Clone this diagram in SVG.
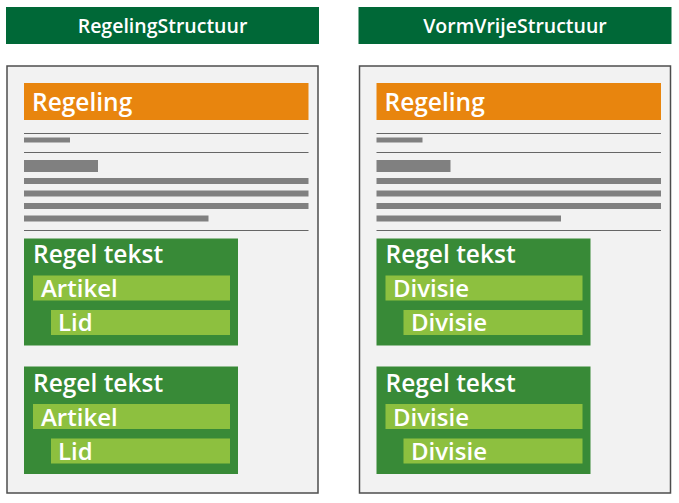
<svg xmlns="http://www.w3.org/2000/svg" width="679" height="503" viewBox="0 0 679 503">
<style>
.hdr{fill:#006837}
.hdrt{fill:#fff;font-family:"Open Sans",sans-serif;font-weight:600;font-size:19.5px;text-anchor:middle}
.doc{fill:#f2f2f2;stroke:#4d4d4d;stroke-width:1.5}
.org{fill:#e8850e}
.rule{stroke:#666;stroke-width:1}
.bar{fill:#808080}
.blk{fill:#388a37}
.sub{fill:#8dc03f}
.t{fill:#fff;font-family:"Open Sans",sans-serif;font-weight:600}
.big{font-size:24.5px}
.mid{font-size:24px}
</style>
<g id="col-left">
<g id="hdr-left"><rect class="hdr" x="6" y="7" width="313" height="37"/><text class="hdrt" x="162.5" y="33">RegelingStructuur</text></g>
<g id="doc-left">
<rect class="doc" x="7" y="66" width="311" height="427"/>
<g id="regeling-left"><rect class="org" x="24" y="83" width="284.5" height="37"/><text class="t big" x="32" y="111">Regeling</text></g>
<line class="rule" x1="24" y1="133.5" x2="308.5" y2="133.5"/>
<rect class="bar" x="24" y="137.5" width="46" height="5"/>
<line class="rule" x1="24" y1="152.5" x2="308.5" y2="152.5"/>
<rect class="bar" x="24" y="160" width="74" height="12"/>
<rect class="bar" x="24" y="178" width="284.5" height="6"/>
<rect class="bar" x="24" y="190.5" width="284.5" height="6"/>
<rect class="bar" x="24" y="203" width="284.5" height="6"/>
<rect class="bar" x="24" y="215.5" width="184.5" height="6"/>
<line class="rule" x1="24" y1="230.5" x2="308.5" y2="230.5"/>
<g id="regeltekst-left-1"><rect class="blk" x="24" y="238.5" width="214" height="107"/><text class="t big" x="33" y="263">Regel tekst</text>
<g id="artikel-left-1"><rect class="sub" x="33" y="275.5" width="197" height="25"/><text class="t mid" x="41" y="297">Artikel</text></g>
<g id="lid-left-1"><rect class="sub" x="51" y="310" width="179" height="25"/><text class="t mid" x="58" y="331">Lid</text></g></g>
<g id="regeltekst-left-2"><rect class="blk" x="24" y="366.5" width="214" height="107.5"/><text class="t big" x="33" y="392">Regel tekst</text>
<g id="artikel-left-2"><rect class="sub" x="33" y="404" width="197" height="25"/><text class="t mid" x="41" y="425.5">Artikel</text></g>
<g id="lid-left-2"><rect class="sub" x="51" y="438.5" width="179" height="25"/><text class="t mid" x="58" y="459.5">Lid</text></g></g>
</g>
</g>
<g id="col-right">
<g id="hdr-right"><rect class="hdr" x="358.5" y="7" width="313" height="37"/><text class="hdrt" x="515" y="33">VormVrijeStructuur</text></g>
<g id="doc-right">
<rect class="doc" x="359.5" y="66" width="311" height="427"/>
<g id="regeling-right"><rect class="org" x="376.5" y="83" width="284.5" height="37"/><text class="t big" x="384.5" y="111">Regeling</text></g>
<line class="rule" x1="376.5" y1="133.5" x2="661" y2="133.5"/>
<rect class="bar" x="376.5" y="137.5" width="46" height="5"/>
<line class="rule" x1="376.5" y1="152.5" x2="661" y2="152.5"/>
<rect class="bar" x="376.5" y="160" width="74" height="12"/>
<rect class="bar" x="376.5" y="178" width="284.5" height="6"/>
<rect class="bar" x="376.5" y="190.5" width="284.5" height="6"/>
<rect class="bar" x="376.5" y="203" width="284.5" height="6"/>
<rect class="bar" x="376.5" y="215.5" width="184.5" height="6"/>
<line class="rule" x1="376.5" y1="230.5" x2="661" y2="230.5"/>
<g id="regeltekst-right-1"><rect class="blk" x="376.5" y="238.5" width="214" height="107"/><text class="t big" x="385.5" y="263">Regel tekst</text>
<g id="divisie-right-1a"><rect class="sub" x="385.5" y="275.5" width="197" height="25"/><text class="t mid" x="393" y="297">Divisie</text></g>
<g id="divisie-right-1b"><rect class="sub" x="403.5" y="310" width="179" height="25"/><text class="t mid" x="411" y="331">Divisie</text></g></g>
<g id="regeltekst-right-2"><rect class="blk" x="376.5" y="366.5" width="214" height="107.5"/><text class="t big" x="385.5" y="392">Regel tekst</text>
<g id="divisie-right-2a"><rect class="sub" x="385.5" y="404" width="197" height="25"/><text class="t mid" x="393" y="425.5">Divisie</text></g>
<g id="divisie-right-2b"><rect class="sub" x="403.5" y="438.5" width="179" height="25"/><text class="t mid" x="411" y="459.5">Divisie</text></g></g>
</g>
</g>
<g id="connectors"/>
</svg>
